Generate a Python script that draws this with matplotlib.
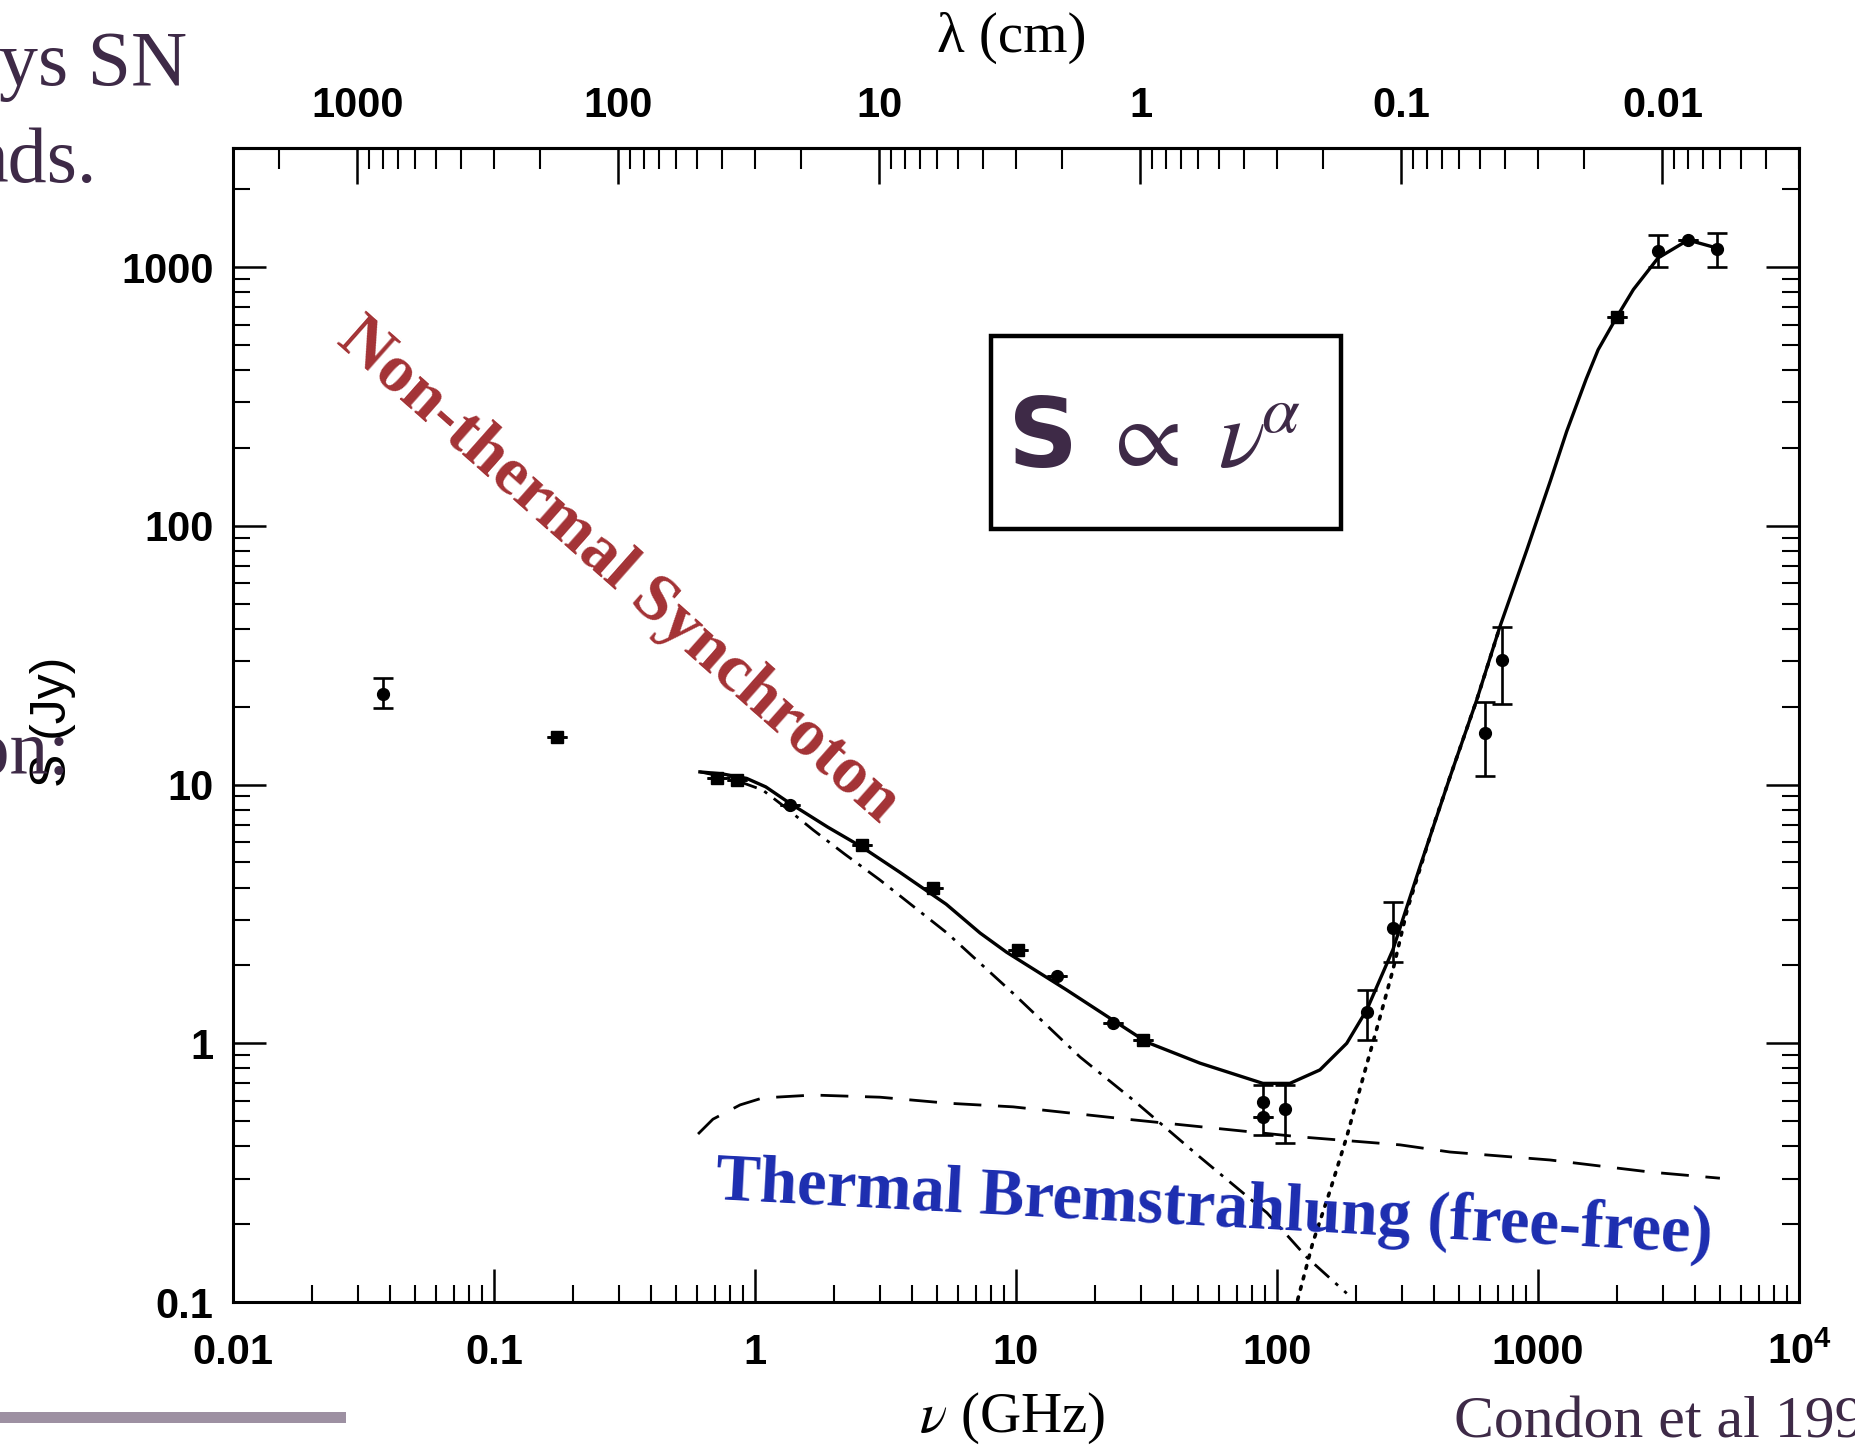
import numpy as np
import matplotlib
matplotlib.use("Agg")
import matplotlib.pyplot as plt
from matplotlib.patches import Rectangle
from matplotlib.ticker import LogLocator, NullFormatter

# ---- data (nu in GHz, S in Jy) ----
nu_pts = [0.0377, 0.174, 0.713, 0.851, 1.36, 2.56, 4.82, 10.2, 14.3, 23.6, 30.7,
          88.7, 88.7, 107, 221, 279, 627, 726, 2000, 2890, 3767, 4840]
s_pts = [22.5, 15.3, 10.6, 10.4, 8.34, 5.85, 3.97, 2.30, 1.82, 1.20, 1.03,
         0.594, 0.520, 0.556, 1.32, 2.78, 15.9, 30.3, 640, 1158, 1273, 1172]
s_lo = [19.8, 15.3, 10.6, 10.4, 8.34, 5.85, 3.97, 2.30, 1.82, 1.20, 1.03,
        0.442, 0.520, 0.413, 1.03, 2.07, 10.8, 20.5, 640, 1000, 1273, 1000]
s_hi = [25.8, 15.3, 10.6, 10.4, 8.34, 5.85, 3.97, 2.30, 1.82, 1.20, 1.03,
        0.690, 0.520, 0.690, 1.61, 3.52, 20.9, 40.6, 640, 1332, 1273, 1361]

# total model (solid)
nu_total = [0.615, 0.75, 0.929, 1.1, 1.36, 1.9, 2.56, 3.57, 5.4, 7.28, 9.2, 15.6,
            31.7, 50.7, 88.3, 112, 146, 185, 221, 278, 353, 460, 582, 714, 906,
            1117, 1288, 1530, 1700, 2000, 2320, 2884, 3758, 4853]
s_total = [11.2, 11.0, 10.57, 9.8, 8.47, 6.85, 5.75, 4.6, 3.45, 2.67, 2.25, 1.61,
           1.01, 0.838, 0.700, 0.700, 0.789, 1.00, 1.35, 2.30, 4.82, 10.7, 21.2,
           40.7, 80.7, 150, 232, 370, 480, 640, 820, 1086, 1274, 1186]

# non-thermal synchrotron (dash-dot)
nu_sync = [0.615, 0.8, 1.07, 1.3, 1.67, 2.2, 3.01, 5.44, 9.75, 17.6, 28.1, 50.7,
           91.6, 130, 185]
s_sync = [11.2, 10.6, 9.53, 8.2, 6.68, 5.4, 4.28, 2.67, 1.56, 0.885, 0.604,
          0.363, 0.221, 0.149, 0.108]

# thermal free-free (dashed)
nu_ff = [0.605, 0.690, 0.877, 1.07, 1.67, 3.01, 5.44, 9.75, 28.1, 67.8, 122,
         296, 460, 1112, 2685, 4977]
s_ff = [0.446, 0.509, 0.578, 0.615, 0.631, 0.619, 0.587, 0.568, 0.506, 0.462,
        0.435, 0.405, 0.380, 0.354, 0.318, 0.301]

# thermal dust (dotted)
nu_dust = [120, 137, 160, 185, 214, 248, 278, 315, 396, 460, 582, 714]
s_dust = [0.102, 0.169, 0.271, 0.435, 0.741, 1.26, 1.92, 3.27, 6.85, 10.7, 21.2, 40.6]

nu_ticks = [0.01, 0.1, 1, 10, 100, 1000, 1e4]
nu_labels = ["0.01", "0.1", "1", "10", "100", "1000", r"$\mathregular{10^4}$"]
s_ticks = [0.1, 1, 10, 100, 1000]
s_labels = ["0.1", "1", "10", "100", "1000"]
lam_ticks = [1000, 100, 10, 1, 0.1, 0.01]
lam_labels = ["1000", "100", "10", "1", "0.1", "0.01"]

W, H = 1856, 1446
SLIDE = "#3e2a47"


def fx(px):
    return px / W


def fy(py):
    return 1 - py / H


def ghz2cm(v):
    v = np.asarray(v, float)
    with np.errstate(divide="ignore", invalid="ignore"):
        return 29.98 / v


plt.rcParams["font.family"] = ["Liberation Sans", "DejaVu Sans"]

fig = plt.figure(figsize=(W / 100, H / 100), dpi=100)
fig.patch.set_facecolor("white")
ax = fig.add_axes([fx(233), fy(1302), fx(1799) - fx(233), fy(148) - fy(1302)])
ax.set_xscale("log")
ax.set_yscale("log")
ax.set_xlim(0.01, 1e4)
ax.set_ylim(0.1, 2890)

ax.plot(nu_total, s_total, color="k", lw=2.4, zorder=4)
ax.plot(nu_sync, s_sync, color="k", lw=2.0, dashes=(7, 3, 1.3, 3), zorder=3)
ax.plot(nu_ff, s_ff, color="k", lw=2.0, dashes=(10, 6), zorder=3)
ax.plot(nu_dust, s_dust, color="k", lw=2.6, linestyle=(0, (0.8, 2.2)),
        dash_capstyle="round", zorder=3)

nu = np.array(nu_pts)
s = np.array(s_pts)
err = np.vstack([s - np.array(s_lo), np.array(s_hi) - s])
ax.errorbar(nu, s, yerr=err, fmt="none", ecolor="k", elinewidth=1.9,
            capsize=7, capthick=1.9, zorder=5)
square = [1, 2, 3, 5, 6, 7, 10, 18]
circ = [i for i in range(len(nu)) if i not in square]
ax.plot(nu[circ], s[circ], "o", color="k", ms=8.5, zorder=6)
ax.plot(nu[square], s[square], "s", color="k", ms=8, zorder=6)

# axes styling
for sp in ax.spines.values():
    sp.set_linewidth(2.2)
ax.set_xticks(nu_ticks, labels=nu_labels)
ax.set_yticks(s_ticks, labels=s_labels)
for axis in (ax.xaxis, ax.yaxis):
    axis.set_minor_locator(LogLocator(base=10, subs=np.arange(2, 10), numticks=30))
    axis.set_minor_formatter(NullFormatter())
ax.tick_params(which="major", direction="in", length=24, width=1.8,
               labelsize=30, top=False, right=True)
ax.tick_params(which="minor", direction="in", length=12, width=1.5,
               top=False, right=True)
ax.tick_params(axis="x", which="major", pad=22)
ax.tick_params(axis="y", which="major", pad=14)
for lbl in ax.get_xticklabels() + ax.get_yticklabels():
    lbl.set_fontweight("bold")

lam = ax.secondary_xaxis("top", functions=(ghz2cm, ghz2cm))
lam.set_xticks(lam_ticks, labels=lam_labels)
lam.xaxis.set_minor_locator(LogLocator(base=10, subs=np.arange(2, 10), numticks=30))
lam.xaxis.set_minor_formatter(NullFormatter())
lam.tick_params(which="major", direction="in", length=26, width=1.8,
                labelsize=30, pad=16)
lam.tick_params(which="minor", direction="in", length=15, width=1.5)
lam.spines["top"].set_linewidth(2.2)
for lbl in lam.get_xticklabels():
    lbl.set_fontweight("bold")

# axis titles
fig.text(fx(1012), fy(38), "λ (cm)", ha="center", va="center", fontsize=41,
         family="Liberation Serif")
fig.text(fx(1012), fy(1418), r"$\nu$ (GHz)", ha="center", va="center",
         fontsize=41, family="Liberation Serif", math_fontfamily="stix")
fig.text(fx(53), fy(722), "S (Jy)", ha="center", va="center", rotation=90,
         fontsize=36)

# annotations
fig.text(fx(618), fy(571), "Non-thermal Synchroton", rotation=-41.5,
         rotation_mode="anchor", ha="center", va="center", color="#a33235",
         fontsize=49, fontweight="bold", family="Liberation Serif")
fig.text(fx(1214), fy(1209), "Thermal Bremstrahlung (free-free)", rotation=-3.1,
         rotation_mode="anchor", ha="center", va="center", color="#1c2db0",
         fontsize=48, fontweight="bold", family="Liberation Serif")

fig.add_artist(Rectangle((fx(991), fy(529)), fx(1341) - fx(991), fy(336) - fy(529),
                         transform=fig.transFigure, facecolor="white",
                         edgecolor="black", lw=3.2, zorder=10))
fig.text(fx(1008), fy(467), "S", ha="left", va="baseline", fontsize=70,
         fontweight="bold", color=SLIDE, family="DejaVu Sans", zorder=11)
fig.text(fx(1100), fy(467), r"$\propto\ \nu^{\!\alpha}$", ha="left", va="baseline",
         fontsize=70, color=SLIDE, math_fontfamily="stix", zorder=11)

# slide fragments around the picture
fig.text(fx(187), fy(85), "ys SN", ha="right", va="baseline", fontsize=56,
         color=SLIDE, family="Liberation Serif")
fig.text(fx(97), fy(182), "nds.", ha="right", va="baseline", fontsize=56,
         color=SLIDE, family="Liberation Serif")
fig.text(fx(70), fy(774), "ion:", ha="right", va="baseline", fontsize=56,
         color=SLIDE, family="Liberation Serif")
fig.text(fx(1454), fy(1438), "Condon et al 1992", ha="left", va="baseline",
         fontsize=43, color=SLIDE, family="Liberation Serif")
fig.add_artist(Rectangle((0, fy(1423)), fx(346), fy(1412) - fy(1423),
                         transform=fig.transFigure, facecolor="#9d90a2",
                         edgecolor="none"))

fig.savefig("out.png", dpi=100)
